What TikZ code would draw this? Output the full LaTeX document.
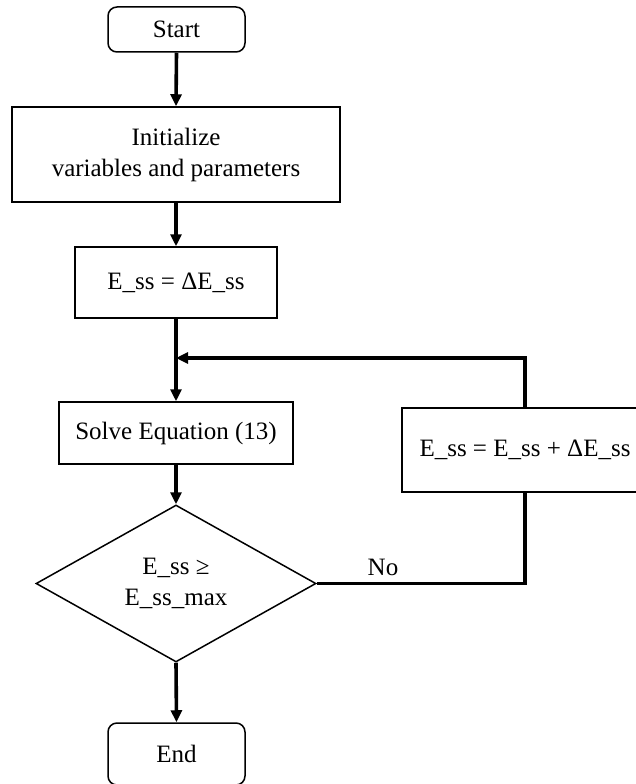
\documentclass[tikz,border=0pt]{standalone}
\usepackage{fontspec}
\setmainfont{Liberation Serif}
\usetikzlibrary{shapes.geometric,arrows.meta}
\begin{document}
\begin{tikzpicture}[x=1pt,y=-1pt,
  box/.style={draw,line width=1.5pt,inner sep=0pt,align=center,font=\fontsize{25}{31}\selectfont},
  term/.style={box,rounded corners=9pt},
  dec/.style={box,diamond,aspect=1.78},
  conn/.style={line width=3.6pt},
  arr/.style={conn,-{Triangle[length=12pt,width=11pt]}}
]
\useasboundingbox (0,0) rectangle (635,784);
\node[term,minimum width=137pt,minimum height=45pt] (start) at (176.5,29.5) {Start};
\node[box,minimum width=328pt,minimum height=95pt] (init) at (176,154.5) {Initialize\\variables and parameters};
\node[box,minimum width=202pt,minimum height=71pt] (ess) at (176,282.5) {E\_ss = ΔE\_ss};
\node[box,minimum width=234pt,minimum height=62pt] (solve) at (176,433) {Solve Equation (13)};
\node[box,minimum width=246pt,minimum height=84pt] (incr) at (525,450) {E\_ss = E\_ss + ΔE\_ss};
\node[dec,minimum width=280pt,minimum height=157pt] (check) at (176,583.5) {E\_ss ≥\\E\_ss\_max};
\node[term,minimum width=137pt,minimum height=62pt] (end) at (176.5,754) {End};
\coordinate (j) at (176,358);
\coordinate (lo) at (525,583.5);
\draw[arr] (start.south) -- (init.north);
\draw[arr] (init.south) -- (ess.north);
\draw[arr] (ess.south) -- (solve.north);
\draw[arr] (incr.north) |- (j);
\draw[arr] (solve.south) -- (check.north);
\draw[conn] (check.east) -- (lo) -- (incr.south);
\node[font=\fontsize{25}{31}\selectfont,anchor=south] (no) at (383,579) {No};
\draw[arr] (check.south) -- (end.north);
\end{tikzpicture}
\end{document}
